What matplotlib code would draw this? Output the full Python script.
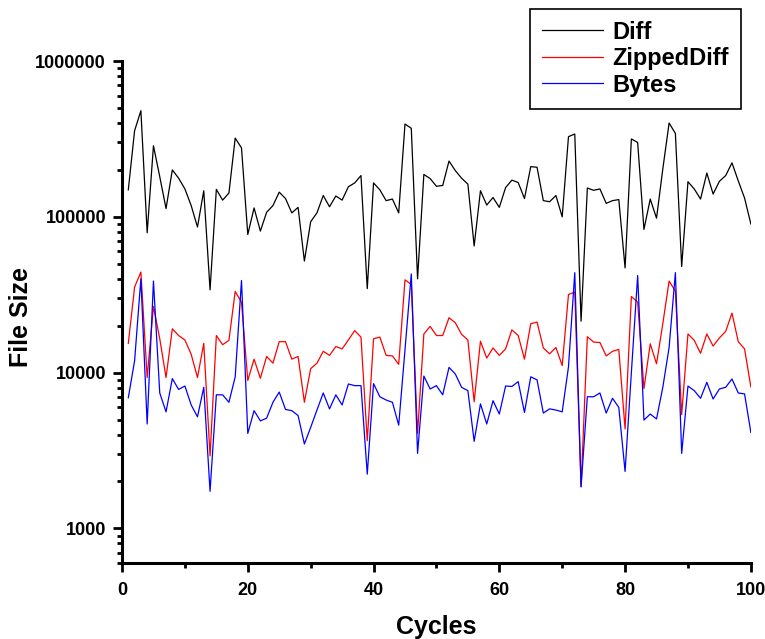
import matplotlib
matplotlib.use('Agg')
import matplotlib.pyplot as plt
from matplotlib.ticker import LogLocator, NullFormatter, MultipleLocator

# dados
cycles = list(range(1, 101))

diff = [149000, 357000, 480000, 79000, 286000, 181000, 113000, 200000, 177000, 151000,
        118000, 86000, 147000, 34000, 150000, 128000, 142000, 320000, 277000, 77000,
        114000, 81000, 107000, 118000, 144000, 131000, 106000, 115000, 52000, 93000,
        106000, 137000, 116000, 136000, 128000, 156000, 165000, 184000, 34600, 165000,
        149000, 127000, 130000, 106000, 394000, 370000, 40000, 187000, 176000, 157000,
        159000, 228000, 198000, 177000, 162000, 65000, 147000, 119000, 133000, 115000,
        154000, 172000, 166000, 131000, 210000, 208000, 127000, 125000, 137000, 100000,
        327000, 340000, 21400, 153000, 148000, 151000, 122000, 127000, 129000, 47000,
        316000, 300000, 83000, 130000, 98000, 203000, 400000, 343000, 48000, 168000,
        151000, 130000, 191000, 140000, 169000, 184000, 222000, 170000, 132000, 90000]

zipped = [15400, 35400, 44200, 9300, 26600, 16500, 9300, 19100, 17300, 16200,
          13100, 9300, 15400, 2920, 17300, 15100, 16100, 33200, 28300, 8900,
          12200, 9200, 12700, 11500, 15800, 15800, 12200, 12700, 6450, 10600,
          11500, 13700, 12900, 14700, 14200, 16200, 18600, 16900, 3650, 16500,
          16900, 12900, 12800, 11300, 39400, 36800, 4070, 17700, 19800, 17300,
          17300, 22500, 20900, 17600, 16200, 6500, 15900, 12400, 14400, 12900,
          14200, 18800, 17300, 12200, 20600, 21100, 14400, 13200, 14500, 11100,
          31700, 32900, 1850, 17000, 15700, 15600, 12800, 13700, 14100, 4350,
          30800, 28300, 7900, 15300, 11400, 20600, 38700, 33300, 5370, 17700,
          16100, 13300, 17700, 14800, 16700, 18400, 24100, 15800, 14200, 8100]

bytes_ = [6900, 11900, 40000, 4680, 38700, 7400, 5600, 9150, 7800, 8200,
          6200, 5200, 8050, 1730, 7200, 7200, 6450, 9400, 39000, 4070,
          5700, 4900, 5100, 6450, 7500, 5800, 5700, 5300, 3480, 4450,
          5750, 7400, 5850, 7200, 6200, 8450, 8250, 8250, 2230, 8500,
          7000, 6670, 6450, 4600, 14000, 43000, 3030, 9500, 7850, 8250,
          7200, 10800, 9800, 8050, 7660, 3620, 6300, 4680, 6600, 5420,
          8200, 8150, 8750, 5550, 9400, 8980, 5500, 5850, 5750, 5600,
          10900, 43800, 1850, 7000, 7000, 7400, 5500, 6840, 5980, 2320,
          10000, 42000, 4960, 5420, 5040, 8050, 14500, 43800, 3030, 8200,
          7660, 6840, 8660, 6770, 7850, 8050, 9100, 7400, 7300, 4130]

y_ticks = [1000, 10000, 100000, 1000000]
y_labels = ['1000', '10000', '100000', '1000000']

plt.rcParams['font.family'] = ['Liberation Sans', 'DejaVu Sans']
plt.rcParams['font.weight'] = 'bold'

fig = plt.figure(figsize=(7.65, 6.39), dpi=100)
ax = fig.add_axes([0.1595, 0.119, 0.822, 0.7855])

ax.plot(cycles, diff, color='black', linewidth=0.9, label='Diff')
ax.plot(cycles, zipped, color='red', linewidth=0.9, label='ZippedDiff')
ax.plot(cycles, bytes_, color='blue', linewidth=0.9, label='Bytes')

ax.set_yscale('log')
ax.set_xlim(0, 100)
ax.set_ylim(600, 1000000)
ax.set_yticks(y_ticks)
ax.set_yticklabels(y_labels)
ax.yaxis.set_minor_locator(LogLocator(base=10, subs=range(2, 10)))
ax.yaxis.set_minor_formatter(NullFormatter())
ax.xaxis.set_major_locator(MultipleLocator(20))
ax.xaxis.set_minor_locator(MultipleLocator(10))

for s in ['top', 'right']:
    ax.spines[s].set_visible(False)
for s in ['left', 'bottom']:
    ax.spines[s].set_linewidth(2.2)

ax.tick_params(which='major', direction='out', length=6.5, width=2, labelsize=13)
ax.tick_params(which='minor', direction='out', length=3.5, width=2)
ax.tick_params(axis='x', which='major', pad=7)
ax.tick_params(axis='y', which='major', pad=5)
for lab in ax.get_xticklabels() + ax.get_yticklabels():
    lab.set_fontweight('bold')

ax.set_xlabel('Cycles', fontsize=18, fontweight='bold', labelpad=12)
ax.set_ylabel('File Size', fontsize=18, fontweight='bold')
ax.yaxis.set_label_coords(-0.142, 0.49)

leg = ax.legend(loc='upper right', bbox_to_anchor=(0.984, 1.104), fancybox=False,
                edgecolor='black', framealpha=1, fontsize=17, handlelength=2.6,
                labelspacing=0.15, borderpad=0.5, handletextpad=0.4,
                borderaxespad=0)
leg.get_frame().set_linewidth(1.2)
for t in leg.get_texts():
    t.set_fontweight('bold')

plt.savefig('out.png', dpi=100)
